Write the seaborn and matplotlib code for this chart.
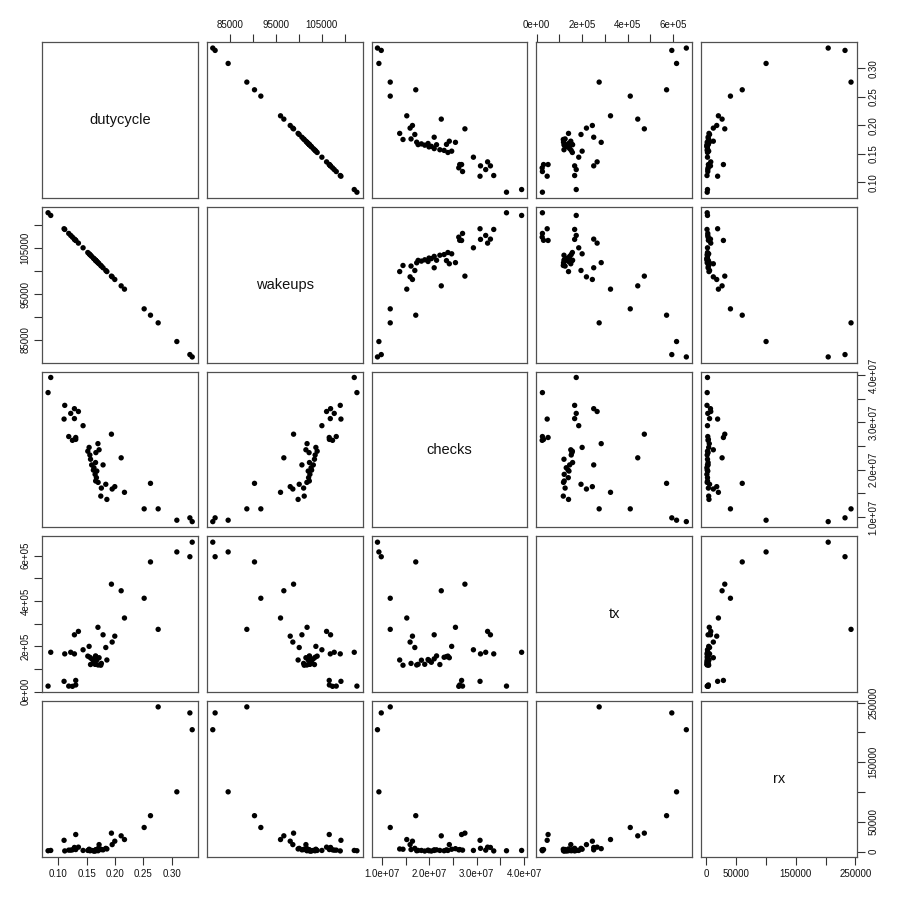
import matplotlib
matplotlib.use("Agg")
import matplotlib.pyplot as plt
from matplotlib.ticker import FixedLocator, FixedFormatter
import numpy as np
import pandas as pd
import seaborn as sns

dutycycle = [0.0871, 0.0824, 0.1117, 0.1287, 0.1357, 0.1222, 0.1105, 0.1287, 0.1439,
             0.1187, 0.1252, 0.1310, 0.1310, 0.1937, 0.1700, 0.1545, 0.1522, 0.1558,
             0.1664, 0.1720, 0.1570, 0.1590, 0.1658, 0.1620, 0.1680, 0.1650, 0.1790,
             0.2108, 0.1673, 0.1703, 0.1838, 0.1760, 0.1950, 0.1996, 0.1750, 0.1857,
             0.2166, 0.2623, 0.2512, 0.2758, 0.3086, 0.3315, 0.3356, 0.1630, 0.1660]
wakeups = [112120, 112700, 109070, 106960, 106090, 107760, 109220, 106900, 105070,
           108200, 107390, 106670, 106700, 98900, 101840, 103760, 104040, 103600,
           102280, 101590, 103450, 103200, 102360, 102830, 102090, 102460, 100720,
           96780, 102170, 101800, 100130, 101090, 98740, 98170, 101220, 99890,
           96060, 90390, 91770, 88720, 84650, 81810, 81300, 102710, 102330]
checks = [39500000, 36300000, 33600000, 32900000, 32300000, 31900000, 30700000, 30800000, 29300000,
          27000000, 26200000, 26800000, 26400000, 27500000, 25500000, 24700000, 23900000, 23100000,
          23600000, 24200000, 22200000, 21000000, 21500000, 19900000, 19700000, 19000000, 21000000,
          22500000, 18300000, 17300000, 16900000, 16100000, 15900000, 16400000, 14400000, 13700000,
          15200000, 17100000, 11700000, 11700000, 9300000, 9800000, 9000000, 20400000, 17600000]
tx = [174000, 25000, 167000, 251000, 266000, 174000, 46000, 167000, 185000,
      25000, 24000, 50000, 30000, 474000, 284000, 200000, 157000, 152000,
      155000, 150000, 120000, 145000, 158000, 138000, 142000, 121000, 251000,
      445000, 139000, 118000, 195000, 125000, 219000, 245000, 117000, 140000,
      325000, 572000, 412000, 275000, 616000, 595000, 659000, 130000, 121000]
rx = [2000, 1500, 1200, 7000, 7500, 2500, 19000, 5500, 2000,
      2500, 3000, 28700, 3500, 31000, 5000, 4000, 2000, 1500,
      3000, 11800, 2000, 2000, 3000, 1500, 2500, 1000, 3000,
      26500, 2000, 1500, 5500, 3500, 11800, 17500, 4000, 4500,
      20300, 60300, 40500, 242800, 100300, 232700, 204500, 1000, 2000]

variables = ["dutycycle", "wakeups", "checks", "tx", "rx"]

# tick positions and the labels R shows (others hidden by overlap)
dutycycle_ticks = [0.10, 0.15, 0.20, 0.25, 0.30]
dutycycle_labels = ["0.10", "0.15", "0.20", "0.25", "0.30"]
wakeups_ticks = [85000, 90000, 95000, 100000, 105000, 110000]
wakeups_labels = ["85000", "", "95000", "", "105000", ""]
checks_ticks = [1.0e7, 1.5e7, 2.0e7, 2.5e7, 3.0e7, 3.5e7, 4.0e7]
checks_labels = ["1.0e+07", "", "2.0e+07", "", "3.0e+07", "", "4.0e+07"]
tx_ticks = [0, 1e5, 2e5, 3e5, 4e5, 5e5, 6e5]
tx_labels = ["0e+00", "", "2e+05", "", "4e+05", "", "6e+05"]
rx_ticks = [0, 50000, 100000, 150000, 200000, 250000]
rx_labels = ["0", "50000", "", "150000", "", "250000"]

ticks = {"dutycycle": (dutycycle_ticks, dutycycle_labels),
         "wakeups": (wakeups_ticks, wakeups_labels),
         "checks": (checks_ticks, checks_labels),
         "tx": (tx_ticks, tx_labels),
         "rx": (rx_ticks, rx_labels)}

df = pd.DataFrame({"dutycycle": dutycycle, "wakeups": wakeups, "checks": checks,
                   "tx": tx, "rx": rx})

sns.set_style("white")
plt.rcParams["font.family"] = ["Liberation Sans", "DejaVu Sans"]

g = sns.PairGrid(df, vars=variables, height=1.8, aspect=1, despine=False)
g.map_offdiag(sns.scatterplot, color="black", s=15, linewidth=0, edgecolor="none")

n = len(variables)
for i in range(n):
    for j in range(n):
        ax = g.axes[i, j]
        ax.set_xlabel("")
        ax.set_ylabel("")
        for sp in ax.spines.values():
            sp.set_visible(True)
            sp.set_color("#505050")
            sp.set_linewidth(0.9)
        ax.tick_params(which="both", bottom=False, top=False, left=False, right=False,
                       labelbottom=False, labeltop=False, labelleft=False, labelright=False,
                       length=5.5, width=0.8, color="#333333", labelsize=7, pad=3,
                       labelcolor="#111111")
        if i == j:
            ax.text(0.5, 0.5, variables[i], transform=ax.transAxes,
                    ha="center", va="center", fontsize=10.5, color="#111111")

# limits with R-style 4% expansion and tick locators
for k, v in enumerate(variables):
    vals = np.asarray(df[v], dtype=float)
    lo, hi = vals.min(), vals.max()
    pad = 0.04 * (hi - lo)
    tk, lb = ticks[v]
    axc = g.axes[0, k]
    axc.set_xlim(lo - pad, hi + pad)
    axc.xaxis.set_major_locator(FixedLocator(tk))
    axc.xaxis.set_major_formatter(FixedFormatter(lb))
    axr = g.axes[k, 0]
    axr.set_ylim(lo - pad, hi + pad)
    axr.yaxis.set_major_locator(FixedLocator(tk))
    axr.yaxis.set_major_formatter(FixedFormatter(lb))

for j in range(n):
    if j % 2 == 0:
        g.axes[n - 1, j].tick_params(axis="x", bottom=True, labelbottom=True)
    else:
        g.axes[0, j].tick_params(axis="x", top=True, labeltop=True)
for i in range(n):
    if i % 2 == 0:
        g.axes[i, n - 1].tick_params(axis="y", right=True, labelright=True, labelrotation=90)
    else:
        g.axes[i, 0].tick_params(axis="y", left=True, labelleft=True, labelrotation=90)
    for ax in g.axes[i, :]:
        for t in ax.get_yticklabels():
            t.set_verticalalignment("center")

g.figure.set_size_inches(9, 9)
g.figure.subplots_adjust(left=0.047, right=0.952, bottom=0.048, top=0.953,
                         wspace=0.058, hspace=0.058)
g.figure.savefig("out.png", dpi=100, facecolor="white")
